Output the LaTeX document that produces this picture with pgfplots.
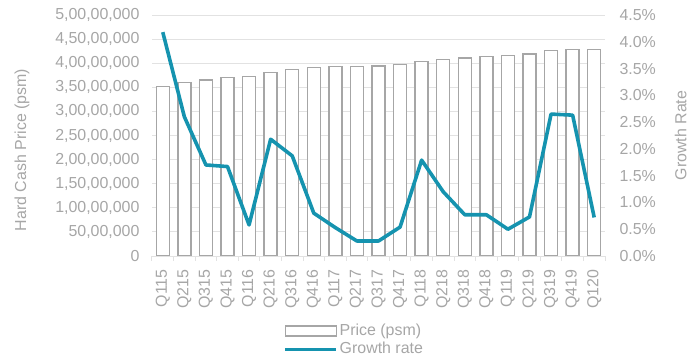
\documentclass[border=0pt]{standalone}
\usepackage{pgfplots}
\pgfplotsset{compat=1.18}
\usepackage{pgfplotstable}
\usepackage{fontspec}
\setmainfont{Liberation Sans}
\definecolor{txt}{HTML}{A6A6A6}
\definecolor{grd}{HTML}{E2E2E2}
\definecolor{barc}{HTML}{A6A6A6}
\definecolor{tealc}{HTML}{1593AF}

\pgfplotstableread{
x price growth
0 35100000 4.18
1 36000000 2.60
2 36500000 1.70
3 37100000 1.67
4 37300000 0.58
5 38100000 2.18
6 38700000 1.87
7 39100000 0.80
8 39300000 0.53
9 39300000 0.28
10 39400000 0.28
11 39700000 0.54
12 40300000 1.79
13 40800000 1.20
14 41100000 0.77
15 41400000 0.77
16 41600000 0.50
17 41900000 0.73
18 42700000 2.65
19 42900000 2.63
20 42900000 0.72
}\data

\pgfplotsset{common/.style={
  scale only axis, width=453bp, height=241bp,
  xmin=-0.5, xmax=20.5,
  font=\fontsize{16}{19}\selectfont,
  /pgf/number format/assume math mode=true,
  tick label style={text=txt},
  label style={text=txt},
  major tick length=0pt,
}}

\begin{document}
\begin{tikzpicture}
\begin{axis}[common,
  ymin=0, ymax=50000000,
  scaled y ticks=false,
  ytick={0,5000000,10000000,15000000,20000000,25000000,30000000,35000000,40000000,45000000,50000000},
  yticklabels={0,{50,00,000},{1,00,00,000},{1,50,00,000},{2,00,00,000},{2,50,00,000},{3,00,00,000},{3,50,00,000},{4,00,00,000},{4,50,00,000},{5,00,00,000}},
  ymajorgrids, grid style={grd, line width=1pt},
  axis x line*=bottom, axis y line*=left,
  y axis line style={draw=none},
  x axis line style={grd, line width=1pt, -},
  xtick={0,...,20},
  xticklabels={Q115,Q215,Q315,Q415,Q116,Q216,Q316,Q416,Q117,Q217,Q317,Q417,Q118,Q218,Q318,Q418,Q119,Q219,Q319,Q419,Q120},
  xticklabel style={rotate=90, anchor=east, xshift=-10bp},
  minor xtick={-0.5,0.5,...,20.5},
  minor tick length=5bp,
  tick align=outside,
  minor tick style={grd, line width=1pt},
  yticklabel style={xshift=-9bp},
  ylabel={Hard Cash Price (psm)},
  ylabel style={at={(rel axis cs:-0.287,0.44)}, anchor=center},
]
\addplot[ybar, bar width=13bp, fill=white, draw=barc, line width=1.3pt] table[x=x,y=price]{\data};
\end{axis}
\begin{axis}[common,
  ymin=0, ymax=4.5,
  ytick={0,0.5,1,1.5,2,2.5,3,3.5,4,4.5},
  yticklabel={\pgfmathprintnumber[fixed,fixed zerofill,precision=1]{\tick}\%},
  axis y line*=right, axis x line=none,
  y axis line style={draw=none},
  yticklabel style={xshift=11bp},
  ylabel={Growth Rate},
  ylabel style={at={(rel axis cs:1.167,0.5)}, anchor=center},
  legend style={at={(0.446,-0.349)}, anchor=center, draw=none, fill=none,
    text=txt, inner sep=0pt,
    nodes={inner sep=1.5bp, text height=12bp, text depth=3.5bp}},
  legend cell align=left,
]
\addlegendimage{legend image code/.code={\draw[barc, line width=1.3pt, fill=white] (0bp,-5bp) rectangle (51bp,5bp);}}
\addlegendentry{Price (psm)}
\addplot[tealc, line width=3.6pt, line join=round, legend image code/.code={\draw[tealc, line width=3.6pt] (0bp,0bp) -- (51bp,0bp);}] table[x=x,y=growth]{\data};
\addlegendentry{Growth rate}
\end{axis}
\pgfresetboundingbox
\path[use as bounding box] (-152bp,-102bp) rectangle (536bp,256bp);
\end{tikzpicture}
\end{document}
